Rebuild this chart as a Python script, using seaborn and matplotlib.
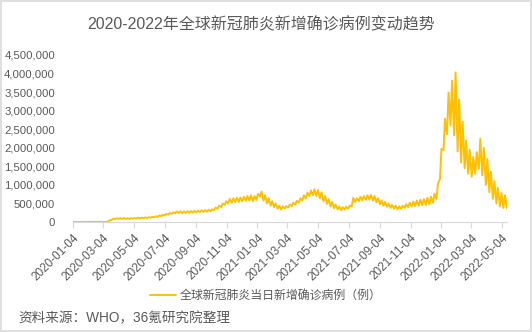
import numpy as np
import pandas as pd
import matplotlib
matplotlib.use('Agg')
import matplotlib.pyplot as plt
import matplotlib.ticker as mticker
from matplotlib.patches import Rectangle
import seaborn as sns

# ---------------- data (thousands of new cases per day) ----------------
title = "2020-2022年全球新冠肺炎新增确诊病例变动趋势"
legend_label = "全球新冠肺炎当日新增确诊病例（例）"
source_text = "资料来源：WHO，36氪研究院整理"
start_date = "2020-01-04"
end_date = "2022-05-14"

# weekly troughs (week starting start_date + 7*i)
weekly_low_k = [0, 0, 0, 0.5, 1.5, 2, 2, 2, 1, 2,
                15, 60, 80, 85, 85, 85, 85, 90, 90, 95,
                100, 105, 115, 125, 140, 160, 180, 200, 220, 240,
                245, 240, 245, 250, 255, 260, 270, 275, 280, 290,
                320, 360, 400, 460, 500, 520, 540, 540, 560, 570,
                580, 560, 600, 680, 580, 500, 440, 400, 360, 340,
                360, 390, 430, 470, 520, 580, 640, 700, 720, 700,
                640, 560, 490, 420, 370, 340, 320, 340, 360, 420,
                540, 560, 580, 600, 600, 580, 530, 480, 440, 410,
                380, 360, 340, 360, 380, 400, 420, 430, 440, 450,
                460, 480, 520, 620, 1160, 1940, 2370, 2600, 2340, 1900,
                1600, 1450, 1300, 1220, 1300, 1430, 1260, 1000, 800, 620,
                500, 420, 380, 370]
# weekly peaks (mid-week)
weekly_high_k = [0, 0, 0.5, 1.5, 3, 3.5, 6, 3, 2.5, 5,
                 45, 90, 100, 105, 105, 100, 105, 110, 115, 120,
                 125, 130, 140, 155, 175, 195, 215, 240, 260, 285,
                 290, 285, 290, 295, 300, 305, 315, 320, 330, 340,
                 390, 440, 500, 560, 620, 640, 660, 660, 680, 700,
                 720, 700, 760, 820, 720, 640, 560, 500, 440, 420,
                 430, 470, 520, 570, 640, 720, 790, 850, 880, 860,
                 800, 700, 620, 540, 470, 420, 400, 410, 440, 650,
                 640, 680, 700, 720, 730, 700, 640, 580, 540, 500,
                 460, 440, 420, 440, 480, 520, 550, 580, 600, 620,
                 650, 680, 760, 1030, 1970, 2780, 3490, 3810, 4030, 3300,
                 2700, 2200, 1950, 1750, 1880, 2240, 2000, 1700, 1350, 1100,
                 920, 780, 720]

tick_labels = ["2020-01-04", "2020-03-04", "2020-05-04", "2020-07-04", "2020-09-04",
               "2020-11-04", "2021-01-04", "2021-03-04", "2021-05-04", "2021-07-04",
               "2021-09-04", "2021-11-04", "2022-01-04", "2022-03-04", "2022-05-04"]
y_ticks = [0, 500000, 1000000, 1500000, 2000000, 2500000, 3000000, 3500000, 4000000, 4500000]

# ---------------- build table ----------------
start = pd.Timestamp(start_date)
low_dates = [start + pd.Timedelta(days=7 * i) for i in range(len(weekly_low_k))]
high_dates = [start + pd.Timedelta(days=7 * i + 3) for i in range(len(weekly_high_k))]
df = pd.DataFrame({
    "date": low_dates + high_dates,
    "cases": [v * 1000 for v in weekly_low_k + weekly_high_k],
}).sort_values("date").reset_index(drop=True)

# ---------------- plot ----------------
sns.set_theme(style="white")
plt.rcParams['font.family'] = ['Liberation Sans', 'Noto Sans CJK SC', 'DejaVu Sans']
text_color = "#595959"
line_color = "#FFC000"

fig = plt.figure(figsize=(5.32, 3.32), dpi=100)
ax = fig.add_axes([73 / 532, 110 / 332, 434 / 532, 167 / 332])

sns.lineplot(data=df, x="date", y="cases", ax=ax, color=line_color,
             linewidth=1.4, label=legend_label)

ax.set_xlim(start, pd.Timestamp(end_date))
ax.set_ylim(0, 4500000)
ax.set_yticks(y_ticks)
ax.yaxis.set_major_formatter(mticker.FuncFormatter(lambda v, p: f"{v:,.0f}"))
ax.set_xticks(pd.to_datetime(tick_labels))
ax.set_xticklabels(tick_labels, rotation=45, ha="right", rotation_mode="anchor")
ax.set_xlabel("")
ax.set_ylabel("")

ax.tick_params(axis="x", bottom=True, length=4, width=0.8, color="#D9D9D9",
               direction="out", pad=3, labelsize=8.5, labelcolor=text_color)
ax.tick_params(axis="y", left=False, pad=7, labelsize=8.2, labelcolor=text_color)

for s in ["top", "right", "left"]:
    ax.spines[s].set_visible(False)
ax.spines["bottom"].set_color("#D9D9D9")
ax.spines["bottom"].set_linewidth(0.8)
ax.grid(False)

leg = ax.legend(loc="center", bbox_to_anchor=(266 / 532, 1 - 296 / 332),
                bbox_transform=fig.transFigure, frameon=False, handlelength=2.2,
                fontsize=8.6, labelcolor=text_color, handletextpad=0.3)

fig.text(261 / 532, 1 - 25 / 332, title, ha="center", va="center",
         fontsize=11.5, color=text_color)
fig.text(18 / 532, 1 - 318 / 332, source_text, ha="left", va="center",
         fontsize=9.8, color=text_color)

fig.patches.append(Rectangle((0.001, 0.002), 0.997, 0.995, transform=fig.transFigure,
                             fill=False, edgecolor="#D9D9D9", linewidth=1.2))

fig.savefig("out.png", dpi=100)
